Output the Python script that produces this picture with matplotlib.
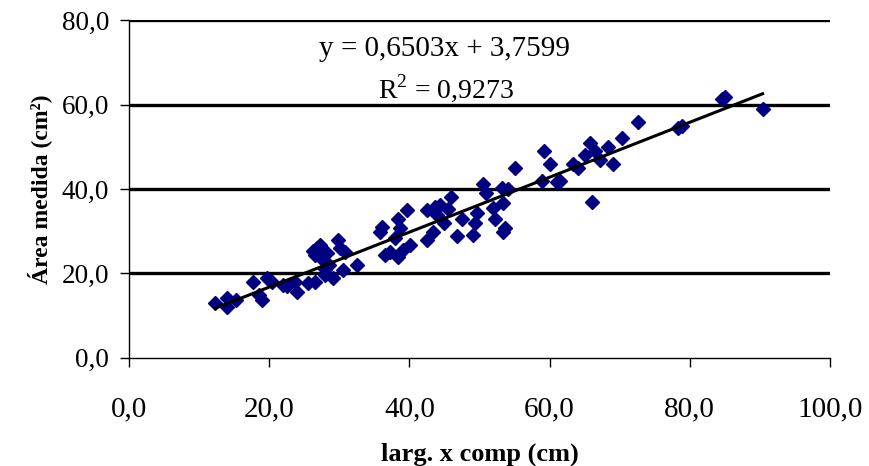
import numpy as np
import matplotlib
matplotlib.use("Agg")
import matplotlib.pyplot as plt

# larg. x comp (cm) vs área medida (cm²)
larg_comp = [12.3, 14.0, 14.0, 15.3, 17.7, 19.0, 18.6, 19.7, 20.4, 22.0,
             22.5, 23.7, 24.0, 25.5, 26.5, 26.8, 26.5, 27.7, 28.0, 28.2,
             27.2, 28.5, 26.2, 29.1, 29.8, 30.1, 30.8, 30.5, 32.5, 28.0,
             35.8, 36.1, 36.5, 37.2, 37.9, 38.4, 38.4, 38.7, 39.1, 39.7,
             40.1, 42.5, 42.5, 43.4, 43.6, 43.9, 44.4, 45.0, 45.5, 46.0,
             46.8, 47.5, 49.1, 49.4, 49.6, 50.5, 51.0, 52.0, 52.2, 53.2,
             53.4, 53.4, 53.6, 54.0, 55.1, 58.9, 59.2, 60.0, 61.0, 61.5,
             63.3, 64.0, 65.0, 65.8, 66.0, 66.5, 67.2, 68.3, 69.0, 70.3,
             72.6, 78.3, 78.9, 84.6, 85.0, 90.4]
area_medida = [13.0, 12.0, 14.2, 13.7, 18.0, 13.7, 15.0, 18.9, 18.0, 17.3,
               17.0, 18.0, 15.6, 17.7, 18.0, 26.0, 24.4, 23.2, 19.6, 24.8,
               26.7, 22.0, 25.3, 18.9, 27.9, 26.0, 25.0, 20.8, 22.0, 21.0,
               29.8, 31.0, 24.4, 25.0, 28.4, 33.0, 24.0, 30.8, 25.6, 35.0,
               26.7, 27.9, 35.0, 29.8, 35.8, 33.8, 36.2, 32.0, 35.3, 38.0,
               28.9, 33.0, 29.1, 32.0, 34.3, 41.2, 39.0, 35.5, 32.9, 40.2,
               36.7, 29.8, 30.8, 40.0, 45.0, 41.9, 49.0, 45.9, 41.7, 42.0,
               46.0, 45.0, 48.0, 50.9, 36.9, 49.0, 46.9, 50.0, 46.0, 52.0,
               55.9, 54.4, 54.9, 61.2, 61.8, 58.9]

# coeficientes da linha de tendência
slope = 0.6503
offset = 3.7599
r2 = 0.9273

x_ticks = np.arange(0, 101, 20)
y_ticks = np.arange(0, 81, 20)

plt.rcParams['font.family'] = ['Liberation Serif', 'DejaVu Serif']
plt.rcParams['mathtext.fontset'] = 'custom'
plt.rcParams['mathtext.rm'] = 'Liberation Serif'

fig = plt.figure(figsize=(8.69, 4.66), dpi=100)
ax = fig.add_axes([0.1485, 0.232, 0.8065, 0.725])

# linhas de grade horizontais
for yv in y_ticks[1:]:
    ax.axhline(yv, color='black', linewidth=2.4, zorder=1)

ax.plot(larg_comp, area_medida, linestyle='none', marker='D', markersize=7.3,
        color='#000080', zorder=2)

x_line = np.array([min(larg_comp), max(larg_comp)])
ax.plot(x_line, slope * x_line + offset, color='black', linewidth=2.2, zorder=3)

ax.set_xlim(0, 100)
ax.set_ylim(0, 80)
ax.set_xticks(x_ticks)
ax.set_yticks(y_ticks)
ax.set_xticklabels([f"{v:.1f}".replace('.', ',') for v in x_ticks], fontsize=21)
ax.set_yticklabels([f"{v:.1f}".replace('.', ',') for v in y_ticks], fontsize=19.5)
ax.tick_params(axis='x', direction='out', length=6.5, width=1, pad=21)
ax.tick_params(axis='y', direction='out', length=6.5, width=1, pad=8)
for s in ['top', 'right']:
    ax.spines[s].set_visible(False)
for s in ['left', 'bottom']:
    ax.spines[s].set_linewidth(1)

ax.set_xlabel("larg. x comp (cm)", fontsize=19, fontweight='bold', labelpad=15)
ax.set_ylabel("Área medida (cm²)", fontsize=17, fontweight='bold', labelpad=7)

ax.text(0.45, 0.915, f"y = {slope:.4f}x + {offset:.4f}".replace('.', ','),
        transform=ax.transAxes, ha='center', va='center', fontsize=21)
ax.text(0.453, 0.8, f"R$^2$ = {r2:.4f}".replace('.', ','),
        transform=ax.transAxes, ha='center', va='center', fontsize=20)

fig.savefig("out.png", dpi=100)
